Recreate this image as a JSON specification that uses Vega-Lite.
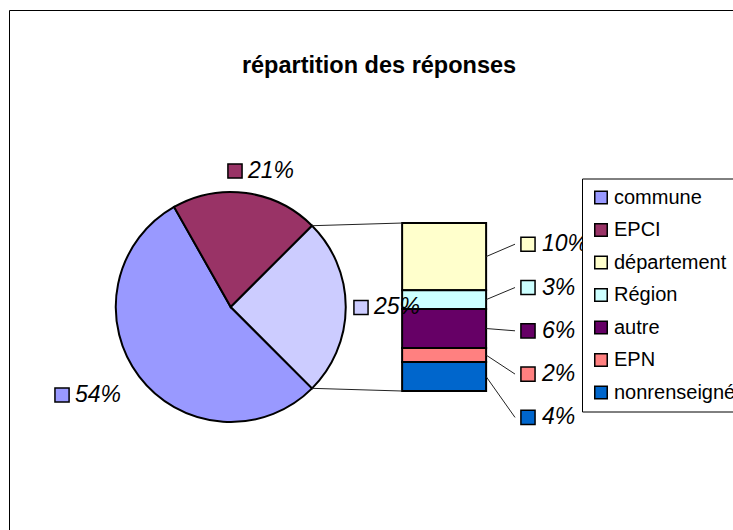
{
  "$schema": "https://vega.github.io/schema/vega-lite/v6.json",
  "width": 740,
  "height": 530,
  "autosize": {"type": "none"},
  "padding": {"left": 9, "top": 10, "right": 0, "bottom": 0},
  "background": "white",
  "title": {
    "text": "répartition des réponses",
    "anchor": "middle",
    "font": "Liberation Sans",
    "fontSize": 23.5,
    "fontWeight": "bold",
    "color": "black",
    "baseline": "alphabetic",
    "offset": 0,
    "dy": 86
  },
  "datasets": {
    "pie": [
      {"name": "commune", "value": 54.3, "rank": 1, "label": "54%"},
      {"name": "EPCI", "value": 20.7, "rank": 2, "label": "21%"},
      {"name": "autres", "value": 25, "rank": 3, "label": "25%"}
    ],
    "bar": [
      {"name": "département", "value": 10.0, "rank": 1, "label": "10%"},
      {"name": "Région", "value": 2.8, "rank": 2, "label": "3%"},
      {"name": "autre", "value": 5.8, "rank": 3, "label": "6%"},
      {"name": "EPN", "value": 2.1, "rank": 4, "label": "2%"},
      {"name": "nonrenseigné", "value": 4.3, "rank": 5, "label": "4%"}
    ]
  },
  "layer": [
    {
      "layer": [
        {
          "data": {"name": "pie"},
          "mark": {"type": "arc", "outerRadius": 115, "stroke": "black", "strokeWidth": 2},
          "encoding": {
            "x": {"datum": 33, "type": "quantitative", "scale": {"domain": [0, 110.119], "nice": false, "zero": false}, "axis": null},
            "y": {"datum": 12.5, "type": "quantitative", "scale": {"domain": [-22.17, 56.7], "nice": false, "zero": false}, "axis": null},
            "theta": {"field": "value", "type": "quantitative", "stack": true, "scale": {"range": [2.35619, 8.63938]}},
            "order": {"field": "rank", "type": "quantitative"},
            "color": {
              "field": "name",
              "type": "nominal",
              "scale": {
                "domain": ["commune", "EPCI", "département", "Région", "autre", "EPN", "nonrenseigné", "autres"],
                "range": ["#9999FF", "#993366", "#FFFFCC", "#CCFFFF", "#660066", "#FF8080", "#0066CC", "#CCCCFF"]
              },
              "legend": {
                "title": null,
                "orient": "none",
                "legendX": 573,
                "legendY": 168.5,
                "values": ["commune", "EPCI", "département", "Région", "autre", "EPN", "nonrenseigné"],
                "symbolType": "square",
                "symbolSize": 156,
                "symbolStrokeColor": "black",
                "symbolStrokeWidth": 1.5,
                "symbolOpacity": 1,
                "labelFont": "Liberation Sans",
                "labelFontSize": 20,
                "labelColor": "black",
                "labelOffset": 3,
                "labelLimit": 400,
                "rowPadding": 12.5,
                "padding": 9,
                "strokeColor": "black",
                "fillColor": "white"
              }
            }
          }
        },
        {
          "data": {"name": "bar"},
          "transform": [
            {"stack": "value", "groupby": [], "sort": [{"field": "rank", "order": "descending"}], "as": ["y0", "y1"]}
          ],
          "mark": {"type": "rect", "stroke": "black", "strokeWidth": 2},
          "encoding": {
            "x": {"datum": 58.5, "type": "quantitative", "scale": {"domain": [0, 110.119], "nice": false, "zero": false}, "axis": null},
            "x2": {"datum": 71},
            "y": {"field": "y0", "type": "quantitative", "scale": {"domain": [-22.17, 56.7], "nice": false, "zero": false}, "axis": null},
            "y2": {"field": "y1"},
            "color": {
              "field": "name",
              "type": "nominal",
              "scale": {
                "domain": ["commune", "EPCI", "département", "Région", "autre", "EPN", "nonrenseigné", "autres"],
                "range": ["#9999FF", "#993366", "#FFFFCC", "#CCFFFF", "#660066", "#FF8080", "#0066CC", "#CCCCFF"]
              }
            }
          }
        },
        {
          "data": {"values": [{}]},
          "mark": {"type": "rule", "color": "#222222", "strokeWidth": 1},
          "encoding": {
            "x": {"datum": 45.1, "type": "quantitative", "scale": {"domain": [0, 110.119], "nice": false, "zero": false}, "axis": null},
            "x2": {"datum": 58.5},
            "y": {"datum": 24.6, "type": "quantitative", "scale": {"domain": [-22.17, 56.7], "nice": false, "zero": false}, "axis": null},
            "y2": {"datum": 25}
          }
        },
        {
          "data": {"values": [{}]},
          "mark": {"type": "rule", "color": "#222222", "strokeWidth": 1},
          "encoding": {
            "x": {"datum": 45.1, "type": "quantitative", "scale": {"domain": [0, 110.119], "nice": false, "zero": false}, "axis": null},
            "x2": {"datum": 58.5},
            "y": {"datum": 0.4, "type": "quantitative", "scale": {"domain": [-22.17, 56.7], "nice": false, "zero": false}, "axis": null},
            "y2": {"datum": 0}
          }
        },
        {
          "data": {"values": [{}]},
          "mark": {"type": "rule", "color": "#222222", "strokeWidth": 1},
          "encoding": {
            "x": {"datum": 71, "type": "quantitative", "scale": {"domain": [0, 110.119], "nice": false, "zero": false}, "axis": null},
            "x2": {"datum": 75.3},
            "y": {"datum": 20, "type": "quantitative", "scale": {"domain": [-22.17, 56.7], "nice": false, "zero": false}, "axis": null},
            "y2": {"datum": 21.85}
          }
        },
        {
          "data": {"values": [{}]},
          "mark": {"type": "rule", "color": "#222222", "strokeWidth": 1},
          "encoding": {
            "x": {"datum": 71, "type": "quantitative", "scale": {"domain": [0, 110.119], "nice": false, "zero": false}, "axis": null},
            "x2": {"datum": 75.3},
            "y": {"datum": 13.6, "type": "quantitative", "scale": {"domain": [-22.17, 56.7], "nice": false, "zero": false}, "axis": null},
            "y2": {"datum": 15.4}
          }
        },
        {
          "data": {"values": [{}]},
          "mark": {"type": "rule", "color": "#222222", "strokeWidth": 1},
          "encoding": {
            "x": {"datum": 71, "type": "quantitative", "scale": {"domain": [0, 110.119], "nice": false, "zero": false}, "axis": null},
            "x2": {"datum": 75.3},
            "y": {"datum": 9.3, "type": "quantitative", "scale": {"domain": [-22.17, 56.7], "nice": false, "zero": false}, "axis": null},
            "y2": {"datum": 8.96}
          }
        },
        {
          "data": {"values": [{}]},
          "mark": {"type": "rule", "color": "#222222", "strokeWidth": 1},
          "encoding": {
            "x": {"datum": 71, "type": "quantitative", "scale": {"domain": [0, 110.119], "nice": false, "zero": false}, "axis": null},
            "x2": {"datum": 75.3},
            "y": {"datum": 5.35, "type": "quantitative", "scale": {"domain": [-22.17, 56.7], "nice": false, "zero": false}, "axis": null},
            "y2": {"datum": 2.52}
          }
        },
        {
          "data": {"values": [{}]},
          "mark": {"type": "rule", "color": "#222222", "strokeWidth": 1},
          "encoding": {
            "x": {"datum": 71, "type": "quantitative", "scale": {"domain": [0, 110.119], "nice": false, "zero": false}, "axis": null},
            "x2": {"datum": 75.3},
            "y": {"datum": 2.15, "type": "quantitative", "scale": {"domain": [-22.17, 56.7], "nice": false, "zero": false}, "axis": null},
            "y2": {"datum": -3.93}
          }
        },
        {
          "data": {"name": "pie"},
          "transform": [{"filter": "datum.name === 'EPCI'"}],
          "encoding": {
            "x": {"datum": 33.63, "type": "quantitative", "scale": {"domain": [0, 110.119], "nice": false, "zero": false}, "axis": null},
            "y": {"datum": 32.74, "type": "quantitative", "scale": {"domain": [-22.17, 56.7], "nice": false, "zero": false}, "axis": null}
          },
          "layer": [
            {
              "mark": {"type": "point", "shape": "square", "filled": true, "size": 200, "stroke": "black", "strokeWidth": 1.5, "opacity": 1},
              "encoding": {"color": {"field": "name", "type": "nominal", "scale": {"domain": ["commune", "EPCI", "département", "Région", "autre", "EPN", "nonrenseigné", "autres"], "range": ["#9999FF", "#993366", "#FFFFCC", "#CCFFFF", "#660066", "#FF8080", "#0066CC", "#CCCCFF"]}}}
            },
            {
              "mark": {"type": "text", "align": "left", "baseline": "middle", "dx": 13, "font": "Liberation Sans", "fontStyle": "italic", "fontSize": 23, "color": "black"},
              "encoding": {"text": {"field": "label"}}
            }
          ]
        },
        {
          "data": {"name": "pie"},
          "transform": [{"filter": "datum.name === 'commune'"}],
          "encoding": {
            "x": {"datum": 7.89, "type": "quantitative", "scale": {"domain": [0, 110.119], "nice": false, "zero": false}, "axis": null},
            "y": {"datum": -0.59, "type": "quantitative", "scale": {"domain": [-22.17, 56.7], "nice": false, "zero": false}, "axis": null}
          },
          "layer": [
            {
              "mark": {"type": "point", "shape": "square", "filled": true, "size": 200, "stroke": "black", "strokeWidth": 1.5, "opacity": 1},
              "encoding": {"color": {"field": "name", "type": "nominal", "scale": {"domain": ["commune", "EPCI", "département", "Région", "autre", "EPN", "nonrenseigné", "autres"], "range": ["#9999FF", "#993366", "#FFFFCC", "#CCFFFF", "#660066", "#FF8080", "#0066CC", "#CCCCFF"]}}}
            },
            {
              "mark": {"type": "text", "align": "left", "baseline": "middle", "dx": 13, "font": "Liberation Sans", "fontStyle": "italic", "fontSize": 23, "color": "black"},
              "encoding": {"text": {"field": "label"}}
            }
          ]
        },
        {
          "data": {"name": "pie"},
          "transform": [{"filter": "datum.name === 'autres'"}],
          "encoding": {
            "x": {"datum": 52.38, "type": "quantitative", "scale": {"domain": [0, 110.119], "nice": false, "zero": false}, "axis": null},
            "y": {"datum": 12.43, "type": "quantitative", "scale": {"domain": [-22.17, 56.7], "nice": false, "zero": false}, "axis": null}
          },
          "layer": [
            {
              "mark": {"type": "point", "shape": "square", "filled": true, "size": 200, "stroke": "black", "strokeWidth": 1.5, "opacity": 1},
              "encoding": {"color": {"field": "name", "type": "nominal", "scale": {"domain": ["commune", "EPCI", "département", "Région", "autre", "EPN", "nonrenseigné", "autres"], "range": ["#9999FF", "#993366", "#FFFFCC", "#CCFFFF", "#660066", "#FF8080", "#0066CC", "#CCCCFF"]}}}
            },
            {
              "mark": {"type": "text", "align": "left", "baseline": "middle", "dx": 13, "font": "Liberation Sans", "fontStyle": "italic", "fontSize": 23, "color": "black"},
              "encoding": {"text": {"field": "label"}}
            }
          ]
        }
      ]
    },
    {
      "data": {"name": "bar"},
      "encoding": {
        "x": {"datum": 77.23, "type": "quantitative", "scale": {"domain": [0, 110.119], "nice": false, "zero": false}, "axis": null},
        "y": {"field": "rank", "type": "quantitative", "scale": {"domain": [-4.409, 7.831], "nice": false, "zero": false, "reverse": true}, "axis": null}
      },
      "layer": [
        {
          "mark": {"type": "point", "shape": "square", "filled": true, "size": 200, "stroke": "black", "strokeWidth": 1.5, "opacity": 1},
          "encoding": {"color": {"field": "name", "type": "nominal", "scale": {"domain": ["commune", "EPCI", "département", "Région", "autre", "EPN", "nonrenseigné", "autres"], "range": ["#9999FF", "#993366", "#FFFFCC", "#CCFFFF", "#660066", "#FF8080", "#0066CC", "#CCCCFF"]}}}
        },
        {
          "mark": {"type": "text", "align": "left", "baseline": "middle", "dx": 14, "font": "Liberation Sans", "fontStyle": "italic", "fontSize": 23, "color": "black"},
          "encoding": {"text": {"field": "label"}}
        }
      ]
    }
  ],
  "resolve": {"scale": {"y": "independent"}},
  "config": {
    "font": "Liberation Sans",
    "view": {"stroke": "black", "strokeWidth": 1, "fill": "white"}
  }
}
